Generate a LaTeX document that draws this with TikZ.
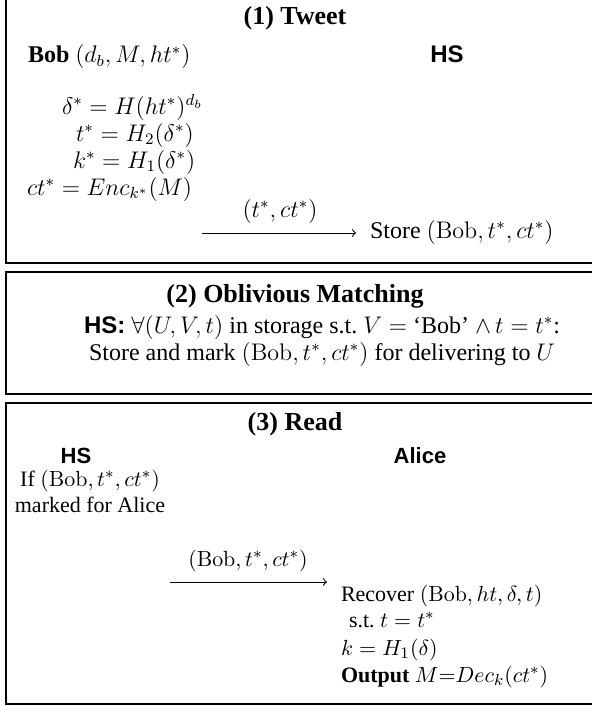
\documentclass[tikz,border=0pt]{standalone}
\usepackage{amsmath}
\usepackage[no-math]{fontspec}
\setmainfont{Liberation Serif}
\newfontfamily\hsfont{Liberation Sans}
\begin{document}
\begin{tikzpicture}[x=0.5pt,y=-0.5pt,
  font=\fontsize{12}{13}\selectfont,
  every node/.style={inner sep=0pt, outer sep=0pt},
  frame/.style={draw=black, line width=0.8pt},
  titlebox/.style={font=\fontsize{13}{15}\selectfont\bfseries, anchor=base},
  party/.style={font=\fontsize{12}{14}\selectfont\hsfont\bfseries, anchor=base},
  partysmall/.style={font=\fontsize{11}{13}\selectfont\hsfont\bfseries, anchor=base},
  txt/.style={anchor=base west},
  small/.style={font=\fontsize{11}{13}\selectfont},
  msg/.style={->, line width=0.5pt}]
\useasboundingbox (0,0) rectangle (591,706);
% frames
\draw[frame] (6,-10) rectangle (620,263);
\draw[frame] (6,272) rectangle (620,394);
\draw[frame] (6,403) rectangle (620,704);
% (1) Tweet
\node[titlebox] (t1) at (295,25) {(1) Tweet};
\node[txt] (bob) at (28,63) {\textbf{Bob} $(d_b, M, ht^*)$};
\node[party] (hs1) at (447,63) {HS};
\node[txt] (e1) at (62,114) {$\delta^* = H(ht^*)^{d_b}$};
\node[txt] (e2) at (76,141) {$t^* = H_2(\delta^*)$};
\node[txt] (e3) at (73,168) {$k^* = H_1(\delta^*)$};
\node[txt] (e4) at (27,195) {$ct^* = Enc_{k^*}(M)$};
\node[anchor=base] (m1) at (280,217) {$(t^*, ct^*)$};
\node[txt] (store) at (370,238) {Store $(\mathrm{Bob}, t^*, ct^*)$};
\coordinate (a1s) at (202,233);
\draw[msg] (a1s) -- ([xshift=-7pt]a1s -| store.west);
% (2) Oblivious Matching
\node[titlebox] (t2) at (295,302) {(2) Oblivious Matching};
\node[anchor=base] (l21) at (322,333) {{\hsfont\bfseries HS:} $\forall (U,V,t)$ in storage s.t.\ $V =$ `Bob' $\wedge\, t = t^*$:};
\node[anchor=base] (l22) at (322,360) {Store and mark $(\mathrm{Bob}, t^*, ct^*)$ for delivering to $U$};
% (3) Read
\node[titlebox] (t3) at (295,430) {(3) Read};
\node[partysmall] (hs3) at (76,463) {HS};
\node[partysmall] (alice) at (420,463) {Alice};
\node[small, anchor=base, align=center] (if) at (90,512) {If $(\mathrm{Bob}, t^*, ct^*)$\\marked for Alice};
\node[small, anchor=base] (m3) at (248,566) {$(\mathrm{Bob}, t^*, ct^*)$};
\coordinate (a3s) at (170,582);
\coordinate (a3e) at (327,582);
\draw[msg] (a3s) -- (a3e);
\node[small, txt] (rec) at (341,601) {Recover $(\mathrm{Bob}, ht, \delta, t)$};
\node[small, txt] (st) at (349,627) {s.t.\ $t = t^*$};
\node[small, txt] (kk) at (341,655) {$k = H_1(\delta)$};
\node[small, txt] (out) at (341,682) {\textbf{Output} $M{=}Dec_k(ct^*)$};
\end{tikzpicture}
\end{document}
